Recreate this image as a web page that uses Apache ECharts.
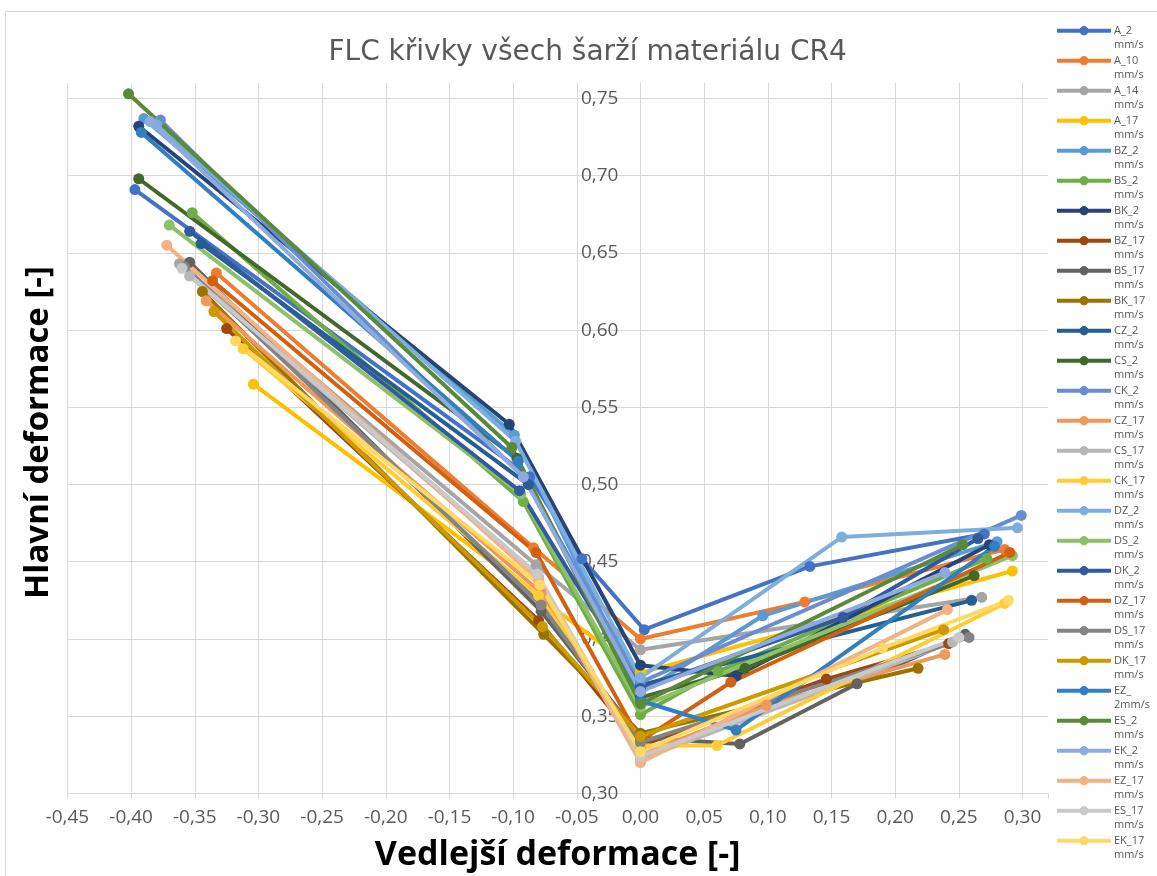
<!DOCTYPE html>
<html>
<head>
<meta charset="utf-8">
<script src="https://cdn.jsdelivr.net/npm/echarts@6/dist/echarts.min.js"></script>
<style>
  html, body { margin: 0; padding: 0; background: #fff; }
  #chart { width: 1157px; height: 876px; }
</style>
</head>
<body>
<div id="chart"></div>
<script>
// FLC curves: [minor strain, major strain] pairs per batch / speed
const seriesNames = [
  'A_2 mm/s', 'A_10 mm/s', 'A_14 mm/s', 'A_17 mm/s',
  'BZ_2 mm/s', 'BS_2 mm/s', 'BK_2 mm/s', 'BZ_17 mm/s', 'BS_17 mm/s', 'BK_17 mm/s',
  'CZ_2 mm/s', 'CS_2 mm/s', 'CK_2 mm/s', 'CZ_17 mm/s', 'CS_17 mm/s', 'CK_17 mm/s',
  'DZ_2 mm/s', 'DS_2 mm/s', 'DK_2 mm/s', 'DZ_17 mm/s', 'DS_17 mm/s', 'DK_17 mm/s',
  'EZ_2mm/s', 'ES_2 mm/s', 'EK_2 mm/s', 'EZ_17 mm/s', 'ES_17 mm/s', 'EK_17 mm/s'
];

const a2   = [[-0.397, 0.691], [-0.087, 0.505], [-0.046, 0.452], [0.003, 0.406], [0.133, 0.447], [0.270, 0.468]];
const a10  = [[-0.333, 0.637], [-0.084, 0.459], [0.000, 0.400], [0.129, 0.424], [0.286, 0.458]];
const a14  = [[-0.362, 0.643], [-0.082, 0.448], [0.000, 0.393], [0.268, 0.427]];
const a17  = [[-0.304, 0.565], [0.000, 0.378], [0.292, 0.444]];
const bz2  = [[-0.390, 0.737], [-0.099, 0.532], [0.000, 0.365], [0.096, 0.415], [0.280, 0.463]];
const bs2  = [[-0.352, 0.676], [-0.092, 0.489], [0.000, 0.351], [0.061, 0.379], [0.272, 0.452]];
const bk2  = [[-0.394, 0.732], [-0.103, 0.539], [0.000, 0.383], [0.075, 0.376], [0.274, 0.461]];
const bz17 = [[-0.325, 0.601], [-0.080, 0.412], [0.000, 0.331], [0.146, 0.374], [0.242, 0.397]];
const bs17 = [[-0.354, 0.644], [-0.078, 0.418], [0.000, 0.336], [0.078, 0.332], [0.170, 0.371], [0.255, 0.403]];
const bk17 = [[-0.344, 0.625], [-0.076, 0.403], [0.000, 0.339], [0.218, 0.381]];
const cz2  = [[-0.345, 0.656], [-0.088, 0.500], [0.000, 0.370], [0.260, 0.425]];
const cs2  = [[-0.394, 0.698], [-0.097, 0.517], [0.000, 0.362], [0.082, 0.381], [0.262, 0.441]];
const ck2  = [[-0.377, 0.736], [-0.092, 0.505], [0.000, 0.372], [0.299, 0.480]];
const cz17 = [[-0.341, 0.619], [-0.078, 0.430], [0.000, 0.325], [0.099, 0.357], [0.239, 0.390]];
const cs17 = [[-0.354, 0.635], [-0.080, 0.440], [0.000, 0.322], [0.245, 0.398]];
const ck17 = [[-0.312, 0.588], [-0.080, 0.428], [0.000, 0.331], [0.060, 0.331], [0.286, 0.423]];
const dz2  = [[-0.380, 0.733], [-0.098, 0.528], [0.000, 0.375], [0.158, 0.466], [0.296, 0.472]];
const ds2  = [[-0.370, 0.668], [-0.094, 0.494], [0.000, 0.356], [0.292, 0.454]];
const dk2  = [[-0.354, 0.664], [-0.095, 0.496], [0.000, 0.368], [0.159, 0.414], [0.265, 0.465]];
const dz17 = [[-0.336, 0.632], [-0.082, 0.456], [0.000, 0.334], [0.071, 0.372], [0.290, 0.456]];
const ds17 = [[-0.358, 0.641], [-0.078, 0.422], [0.000, 0.333], [0.258, 0.401]];
const dk17 = [[-0.335, 0.612], [-0.077, 0.408], [0.000, 0.337], [0.238, 0.406]];
const ez2  = [[-0.392, 0.728], [-0.096, 0.515], [0.000, 0.360], [0.075, 0.341], [0.278, 0.460]];
const es2  = [[-0.402, 0.753], [-0.101, 0.524], [0.000, 0.358], [0.253, 0.461]];
const ek2  = [[-0.385, 0.735], [-0.092, 0.505], [0.000, 0.366], [0.239, 0.443]];
const ez17 = [[-0.372, 0.655], [-0.080, 0.438], [0.000, 0.320], [0.241, 0.419]];
const es17 = [[-0.360, 0.640], [-0.081, 0.442], [0.000, 0.324], [0.250, 0.401]];
const ek17 = [[-0.318, 0.593], [-0.079, 0.435], [0.000, 0.327], [0.190, 0.394], [0.289, 0.425]];

const seriesData = [a2, a10, a14, a17, bz2, bs2, bk2, bz17, bs17, bk17,
  cz2, cs2, ck2, cz17, cs17, ck17, dz2, ds2, dk2, dz17, ds17, dk17,
  ez2, es2, ek2, ez17, es17, ek17];

// Office theme accent colours, then their darker / lighter variants
const palette = [
  '#4472C4', '#ED7D31', '#A5A5A5', '#FFC000', '#5B9BD5', '#70AD47',
  '#264478', '#9E480E', '#636363', '#997300', '#255E91', '#43682B',
  '#698ED0', '#F1975A', '#B7B7B7', '#FFCD33', '#7CAFDD', '#8CC168',
  '#335AA1', '#D26012', '#848484', '#CC9A00', '#327EC2', '#5A8A39',
  '#8FAADC', '#F4B183', '#C9C9C9', '#FFD966'
];

const chartTitle = 'FLC křivky všech šarží materiálu CR4';
const xTitle = 'Vedlejší deformace [-]';
const yTitle = 'Hlavní deformace [-]';

function fmt(v) {
  if (Math.abs(v) < 1e-9) v = 0;
  return v.toFixed(2).replace('.', ',');
}
function onStep(v) {
  return Math.abs(v / 0.05 - Math.round(v / 0.05)) < 1e-6;
}
// legend labels break the same way as the narrow legend column does
function wrapName(n) {
  const i = n.indexOf(' ');
  if (i >= 0) return [n.slice(0, i), n.slice(i + 1)];
  const u = n.indexOf('_');
  return [n.slice(0, u + 1), n.slice(u + 1)];
}

const chart = echarts.init(document.getElementById('chart'), null, { renderer: 'canvas' });

const gridColor = '#d9d9d9';
const labelColor = '#595959';

const gridLeft = 67.4, gridRight = 109, gridTop = 83, gridBottom = 82.6;
const plotW = 1157 - gridLeft - gridRight;
const xMin = -0.45, xMax = 0.32;
// the vertical axis crosses the horizontal one at x = 0
const yAxisOffset = -plotW * (0 - xMin) / (xMax - xMin);

// legend column drawn as graphics: line sample with marker, two-line label
const legendGraphics = [];
seriesNames.forEach((name, i) => {
  const cy = 30.7 + 30 * i;
  const parts = wrapName(name);
  legendGraphics.push(
    { type: 'line', silent: true, shape: { x1: 1057, y1: cy, x2: 1111, y2: cy },
      style: { stroke: palette[i], lineWidth: 4 } },
    { type: 'circle', silent: true, shape: { cx: 1084, cy: cy, r: 4.2 },
      style: { fill: palette[i], stroke: palette[i], lineWidth: 1 } },
    { type: 'text', silent: true, x: 1114, y: cy,
      style: { text: parts[0], fill: labelColor, font: '11px "Open Sans"', align: 'left', verticalAlign: 'middle' } },
    { type: 'text', silent: true, x: 1114, y: cy + 14.5,
      style: { text: parts[1], fill: labelColor, font: '11px "Open Sans"', align: 'left', verticalAlign: 'middle' } }
  );
});

chart.setOption({
  animation: false,
  backgroundColor: '#ffffff',
  grid: { left: gridLeft, right: gridRight, top: gridTop, bottom: gridBottom, containLabel: false },
  xAxis: {
    type: 'value', min: xMin, max: xMax, interval: 0.05,
    axisLine: { show: true, onZero: false, lineStyle: { color: gridColor, width: 1 } },
    axisTick: { show: true, length: 5, lineStyle: { color: gridColor } },
    splitLine: { show: true, showMaxLine: false, lineStyle: { color: gridColor, width: 1 } },
    axisLabel: {
      color: labelColor, fontSize: 19, fontFamily: 'Open Sans', margin: 15,
      formatter: v => (onStep(v) && v < 0.31 ? fmt(v) : '')
    }
  },
  yAxis: {
    type: 'value', min: 0.30, max: 0.76, interval: 0.05,
    position: 'left', offset: yAxisOffset,
    axisLine: { show: true, onZero: false, lineStyle: { color: gridColor, width: 1 } },
    axisTick: { show: false },
    splitLine: { show: true, showMaxLine: false, lineStyle: { color: gridColor, width: 1 } },
    axisLabel: {
      color: labelColor, fontSize: 19, fontFamily: 'Open Sans', margin: 22,
      formatter: v => (onStep(v) && v < 0.755 ? fmt(v) : '')
    }
  },
  legend: { show: false },
  graphic: [
    { type: 'rect', silent: true, z: -1,
      shape: { x: 5.5, y: 11.5, width: 1300, height: 1000 },
      style: { fill: 'none', stroke: gridColor, lineWidth: 1 } },
    { type: 'text', x: 587.6, y: 53, silent: true,
      style: { text: chartTitle, fill: labelColor, font: '28px "DejaVu Sans"', align: 'center', verticalAlign: 'middle' } },
    { type: 'text', x: 557.7, y: 855, silent: true,
      style: { text: xTitle, fill: '#000', font: 'bold 34px "Open Sans"', align: 'center', verticalAlign: 'middle' } },
    { type: 'text', x: 39, y: 432.5, rotation: Math.PI / 2, silent: true,
      style: { text: yTitle, fill: '#000', font: 'bold 33px "Open Sans"', align: 'center', verticalAlign: 'middle' } }
  ].concat(legendGraphics),
  series: seriesNames.map((name, i) => ({
    name: name,
    type: 'line',
    data: seriesData[i],
    symbol: 'circle',
    symbolSize: 11,
    showSymbol: true,
    color: palette[i],
    lineStyle: { width: 4, color: palette[i], join: 'round', cap: 'round' },
    itemStyle: { color: palette[i] },
    emphasis: { disabled: true }
  }))
});
</script>
</body>
</html>
